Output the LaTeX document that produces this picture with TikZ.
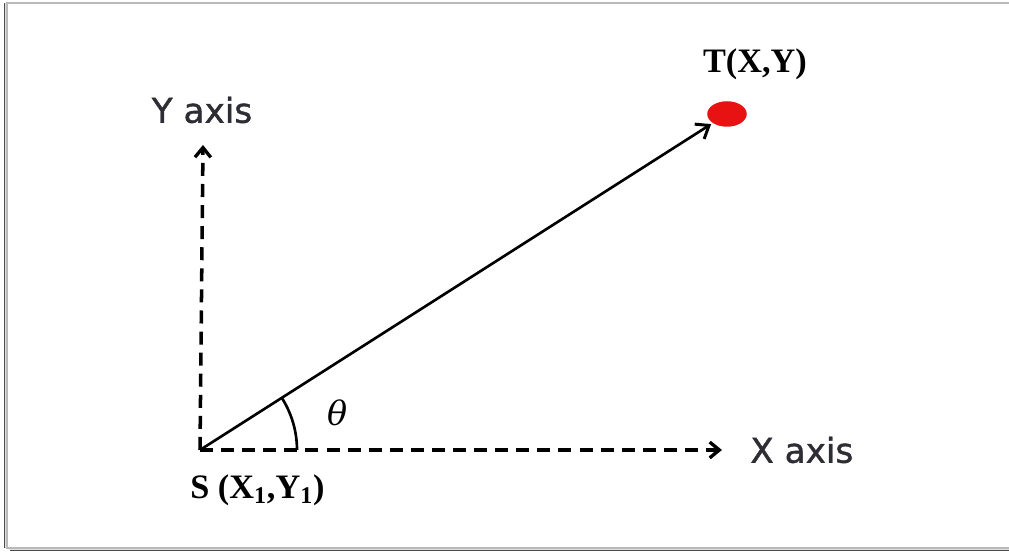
\documentclass[tikz,border=0pt]{standalone}
\usepackage{fontspec}
\setmainfont{Liberation Serif}
\newfontfamily\axisfont[FakeBold=1.2]{DejaVu Sans}
\newfontfamily\thetafont{DejaVu Serif}
\usetikzlibrary{arrows.meta,positioning,shapes.geometric}
\definecolor{dotred}{RGB}{232,18,18}
\definecolor{axistext}{RGB}{45,45,52}
\tikzset{
  axisline/.style={
    line width=2pt,
    dash pattern=on 7.4pt off 4.6pt,
    -{Straight Barb[length=5.5pt,width=9pt,line width=1.9pt]}
  },
  rayline/.style={
    line width=1.5pt,
    -{Straight Barb[length=6.5pt,width=10pt,line width=1.7pt]}
  },
  axislbl/.style={font=\axisfont\fontsize{19.5}{22}\selectfont, text=axistext, inner sep=0pt},
  ptlbl/.style={font=\bfseries\fontsize{19.5}{22}\selectfont, inner sep=0pt},
  target/.style={ellipse, fill=dotred, minimum width=22.5pt, minimum height=14.5pt, inner sep=0pt},
  frameline/.style={draw=gray!55, line width=0.9pt},
}

\begin{document}
\begin{tikzpicture}[x=0.02cm,y=0.02cm]
  \useasboundingbox (0,0) rectangle (1009,553);
  % frame with a soft shadow
  \foreach \k/\o in {1/18,2/12,3/7}{
    \fill[black, opacity=0.\o] (7+\k,5-\k) rectangle (1015,5-\k+1);
    \fill[black, opacity=0.\o] (7-\k,5) rectangle (7-\k+1,550);
  }
  \draw[frameline] (7,5) rectangle (1015,550);

  \coordinate (S) at (200,103);
  \coordinate (ytip) at (203,408);
  \coordinate (xtip) at (722,103);
  \coordinate (arcstart) at (297,103);
  \node[target] (T) at (727,439) {};

  \draw[axisline] (S) -- (ytip);
  \draw[axisline] (S) -- (xtip);
  \draw[rayline, shorten >=1pt] (S) -- (T);
  \draw[line width=1.5pt] (arcstart) arc[start angle=0, end angle=32.6, radius=97];

  \node[axislbl] (ylbl) at (202,443) {Y axis};
  \node[axislbl, anchor=west] (xlbl) at (750,103) {X axis};
  \node[ptlbl] (tlbl) at (755,489) {T(X,Y)};
  \node[ptlbl, anchor=west] (slbl) at (190,63) {S (X\textsubscript{1},Y\textsubscript{1})};
  \node[font=\thetafont\itshape\fontsize{19}{22}\selectfont, inner sep=0pt] (theta) at (338,140) {θ};
\end{tikzpicture}
\end{document}
